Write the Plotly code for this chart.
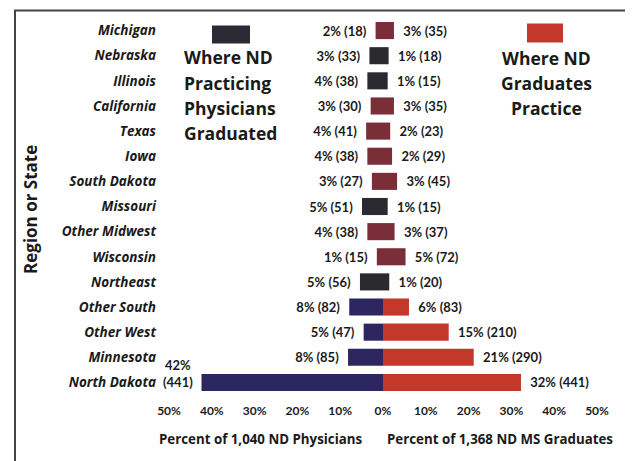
import plotly.graph_objects as go

regions = ["Michigan", "Nebraska", "Illinois", "California", "Texas", "Iowa",
           "South Dakota", "Missouri", "Other Midwest", "Wisconsin", "Northeast",
           "Other South", "Other West", "Minnesota", "North Dakota"]
phys_pct = [2, 3, 4, 3, 4, 4, 3, 5, 4, 1, 5, 8, 5, 8, 42]
phys_count = [18, 33, 38, 30, 41, 38, 27, 51, 38, 15, 56, 82, 47, 85, 441]
grad_pct = [3, 1, 1, 3, 2, 2, 3, 1, 3, 5, 1, 6, 15, 21, 32]
grad_count = [35, 18, 15, 35, 23, 29, 45, 15, 37, 72, 20, 83, 210, 290, 441]
phys_total = 1040
grad_total = 1368
tick_vals = [-50, -40, -30, -20, -10, 0, 10, 20, 30, 40, 50]
tick_text = ["50%", "40%", "30%", "20%", "10%", "0%", "10%", "20%", "30%", "40%", "50%"]
legend_left_lines = ["Where ND", "Practicing", "Physicians", "Graduated"]
legend_right_lines = ["Where ND", "Graduates", "Practice"]
axis_title_left = "Percent of 1,040 ND Physicians"
axis_title_right = "Percent of 1,368 ND MS Graduates"

# styling (scan colours: small bars appear as a single blended blob)
MAROON, CHAR, NAVY, RED = "#7a2e38", "#2b2b2f", "#2c2760", "#c4372b"
row_style = ["M", "C", "C", "M", "M", "M", "M", "C", "M", "M", "C", "N", "N", "N", "N"]
left_colors = [{"M": MAROON, "C": CHAR, "N": NAVY}[s] for s in row_style]
right_colors = [{"M": MAROON, "C": CHAR, "N": RED}[s] for s in row_style]

FONT = "Lato, 'Open Sans', sans-serif"
FONT2 = "'Open Sans', Lato, sans-serif"
TXT = "#1a1a1a"
PAD = "\u00a0\u00a0"

left_len = [-c / phys_total * 100 for c in phys_count]
right_len = [c / grad_total * 100 for c in grad_count]
big = len(regions) - 1  # North Dakota label is drawn as a two-line note
left_text = [f"{p}% ({c}){PAD}" if i != big else "" for i, (p, c) in enumerate(zip(phys_pct, phys_count))]
right_text = [f"{PAD}{p}% ({c})" for p, c in zip(grad_pct, grad_count)]

fig = go.Figure()
for xs, cols, txt in [(left_len, left_colors, left_text), (right_len, right_colors, right_text)]:
    fig.add_trace(go.Bar(
        y=regions, x=xs, orientation="h", base=0,
        marker=dict(color=cols, line=dict(width=0)),
        text=txt, textposition="outside", constraintext="none", cliponaxis=False,
        textfont=dict(family=FONT, size=13, color=TXT, weight="bold"),
        width=0.68, showlegend=False, hoverinfo="skip",
    ))

# page is offset by the browser's 8px body margin
OFF = 8
W, H = 633 - OFF, 461 - OFF
PLOT_L, PLOT_R, PLOT_T, PLOT_B = 169, 597, 17.5, 395.5   # target page pixels
L, R = PLOT_L - OFF, W - (PLOT_R - OFF)
T, B = PLOT_T - OFF, H - (PLOT_B - OFF)
pw, ph = W - L - R, H - T - B


def px_x(px):
    return (px - OFF - L) / pw


def px_y(py):
    return (H - B - (py - OFF)) / ph


n = len(regions)
fig.update_layout(
    width=W, height=H,
    margin=dict(l=L, r=R, t=T, b=B, autoexpand=False),
    paper_bgcolor="white", plot_bgcolor="white",
    barmode="overlay",
    font=dict(family=FONT, color=TXT),
    xaxis=dict(range=[-50, 50], tickvals=tick_vals, ticktext=tick_text,
               showgrid=False, zeroline=False, showline=False, ticks="",
               tickfont=dict(family=FONT, size=12, color=TXT, weight="bold"),
               ticklabelstandoff=7),
    yaxis=dict(categoryorder="array", categoryarray=regions, range=[n - 0.5, -0.5],
               autorange=False,
               showgrid=False, zeroline=False, showline=False, ticks="",
               tickfont=dict(family=FONT2, size=13.5, color=TXT, weight="bold", style="italic"),
               ticklabelstandoff=12),
)

annotations = [
    dict(text="Region or State", textangle=-90, x=px_x(31), y=px_y(210),
         font=dict(family=FONT2, size=17, weight="bold")),
    dict(text=axis_title_left, x=px_x(260), y=px_y(440),
         font=dict(family=FONT2, size=13.3, weight="bold")),
    dict(text=axis_title_right, x=px_x(500), y=px_y(440),
         font=dict(family=FONT2, size=13.3, weight="bold")),
]
for i, line in enumerate(legend_left_lines):
    annotations.append(dict(text=line, x=px_x(182), y=px_y(57 + 25.3 * i), xanchor="left",
                            font=dict(family=FONT2, size=17.5, weight="bold")))
for i, line in enumerate(legend_right_lines):
    annotations.append(dict(text=line, x=px_x(546), y=px_y(58 + 25 * i),
                            font=dict(family=FONT2, size=17.5, weight="bold")))
for a in annotations:
    a.update(xref="paper", yref="paper", showarrow=False)
    a.setdefault("xanchor", "center")
    a["yanchor"] = "middle"
annotations.append(dict(
    text=f"{phys_pct[big]}%<br>({phys_count[big]})", x=left_len[big], y=regions[big],
    xref="x", yref="y", xanchor="right", yanchor="middle", xshift=-7, yshift=9,
    showarrow=False, align="center",
    font=dict(family=FONT, size=13, color=TXT, weight="bold"),
))
fig.update_layout(annotations=annotations)

fig.update_layout(shapes=[
    dict(type="rect", xref="paper", yref="paper", x0=px_x(212), x1=px_x(250),
         y0=px_y(43), y1=px_y(25), fillcolor="#2b2b35", line=dict(width=0)),
    dict(type="rect", xref="paper", yref="paper", x0=px_x(527), x1=px_x(563),
         y0=px_y(42), y1=px_y(23), fillcolor=RED, line=dict(width=0)),
    dict(type="rect", xref="paper", yref="paper", x0=px_x(15), x1=px_x(630),
         y0=px_y(475), y1=px_y(10), fillcolor="rgba(0,0,0,0)",
         line=dict(color="#444444", width=2), layer="below"),
])

fig.write_html("out.html")
